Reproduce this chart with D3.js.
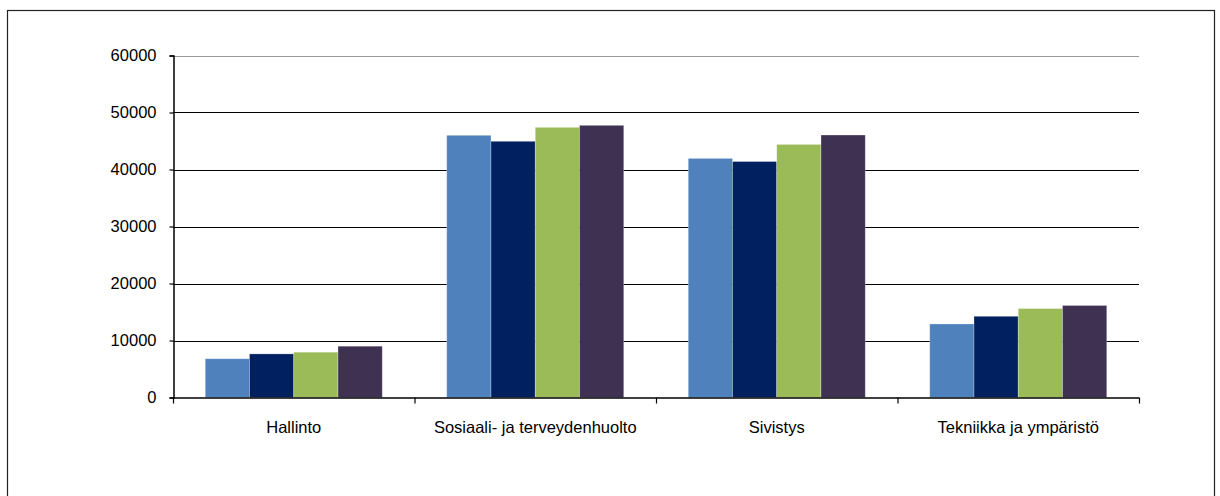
<!DOCTYPE html>
<html>
<head>
<meta charset="utf-8">
<script src="https://cdn.jsdelivr.net/npm/d3@7"></script>
<style>
  body { margin: 0; background: #fff; }
  svg { display: block; font-family: "Liberation Sans", Arial, sans-serif; }
</style>
</head>
<body>
<svg id="chart" width="1220" height="496"></svg>
<script>
'use strict';

var categories = ['Hallinto', 'Sosiaali- ja terveydenhuolto', 'Sivistys', 'Tekniikka ja ympäristö'];
var series1 = [6800, 46000, 41950, 12900];
var series2 = [7650, 44950, 41400, 14250];
var series3 = [7950, 47400, 44400, 15600];
var series4 = [9000, 47750, 46050, 16150];
var yTicks = [0, 10000, 20000, 30000, 40000, 50000, 60000];
var colors = ['#4F81BD', '#002060', '#9BBB59', '#3F3151'];

var allSeries = [series1, series2, series3, series4];
var svg = d3.select('#chart');
var fontSize = 16.5;

// outer frame
svg.append('rect')
  .attr('x', 7.5).attr('y', 10.5)
  .attr('width', 1207).attr('height', 490)
  .attr('fill', 'none').attr('stroke', '#222').attr('stroke-width', 1.2);

var margin = { left: 173, right: 1139, top: 55.5, bot: 397.5 };

var xScale = d3.scaleBand()
  .domain(categories)
  .range([margin.left, margin.right])
  .paddingInner(0.267).paddingOuter(0.1335);

var xSub = d3.scaleBand()
  .domain(d3.range(allSeries.length))
  .range([0, xScale.bandwidth()]);

var yScale = d3.scaleLinear().domain([0, 60000]).range([margin.bot, margin.top]);

// Gridlines
svg.append('g').selectAll('line')
  .data(yTicks.filter(function(d) { return d > 0; }))
  .enter().append('line')
  .attr('x1', margin.left).attr('x2', margin.right)
  .attr('y1', function(d) { return Math.round(yScale(d)) + 0.5; })
  .attr('y2', function(d) { return Math.round(yScale(d)) + 0.5; })
  .attr('stroke', function(d) { return d === 60000 ? '#999' : '#000'; })
  .attr('stroke-width', 1.2);

// BARS
var groups = svg.append('g').selectAll('g')
  .data(categories)
  .enter().append('g')
  .attr('transform', function(d) { return 'translate(' + xScale(d) + ',0)'; });

groups.selectAll('rect')
  .data(function(d, i) { return allSeries.map(function(s, j) { return { s: j, v: s[i] }; }); })
  .enter().append('rect')
  .attr('x', function(d) { return xSub(d.s); })
  .attr('y', function(d) { return yScale(d.v); })
  .attr('width', xSub.bandwidth())
  .attr('height', function(d) { return yScale(0) - yScale(d.v); })
  .attr('fill', function(d) { return colors[d.s]; })
  .attr('stroke', 'rgba(255,255,255,0.35)')
  .attr('stroke-width', 0.8);

// Y axis
var yAxis = d3.axisLeft(yScale).tickValues(yTicks).tickSize(4).tickPadding(13)
  .tickFormat(d3.format('d'));
svg.append('g')
  .attr('transform', 'translate(' + (margin.left + 0.5) + ',0)')
  .call(yAxis)
  .call(function(g) {
    g.select('.domain').attr('stroke', '#000').attr('stroke-width', 1.5);
    g.selectAll('.tick line').attr('stroke', '#000').attr('stroke-width', 1.2);
    g.selectAll('.tick text').attr('font-size', fontSize).attr('fill', '#000')
      .attr('font-family', '"Liberation Sans", Arial, sans-serif');
  });

// X axis baseline and ticks
var bounds = d3.range(categories.length + 1).map(function(i) { return margin.left + i * (margin.right - margin.left) / categories.length; });
var xg = svg.append('g');
xg.append('line')
  .attr('x1', margin.left).attr('x2', margin.right)
  .attr('y1', margin.bot + 0.5).attr('y2', margin.bot + 0.5)
  .attr('stroke', '#000').attr('stroke-width', 1.5);
xg.selectAll('line.tk').data(bounds).enter().append('line')
  .attr('class', 'tk')
  .attr('x1', function(d) { return d + 0.5; }).attr('x2', function(d) { return d + 0.5; })
  .attr('y1', margin.bot).attr('y2', margin.bot + 6)
  .attr('stroke', '#000').attr('stroke-width', 1.2);
xg.selectAll('text').data(categories).enter().append('text')
  .attr('x', function(d) { return xScale(d) + xScale.bandwidth() / 2; })
  .attr('y', 433)
  .attr('text-anchor', 'middle')
  .attr('font-size', fontSize)
  .attr('fill', '#000')
  .text(function(d) { return d; });
</script>
</body>
</html>
